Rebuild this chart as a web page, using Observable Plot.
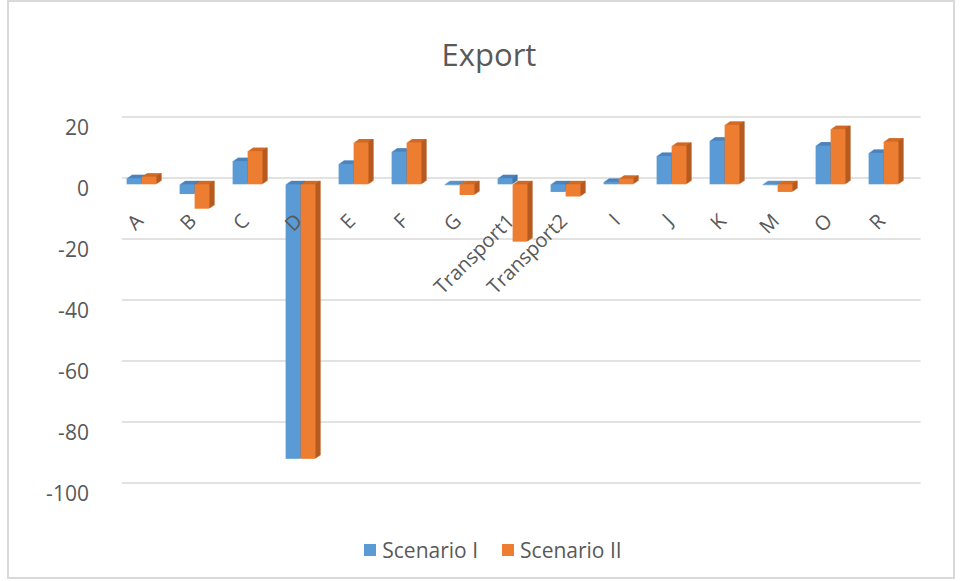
<!DOCTYPE html>
<html><head><meta charset="utf-8">
<script src="https://cdn.jsdelivr.net/npm/d3@7"></script>
<script src="https://cdn.jsdelivr.net/npm/@observablehq/plot@0.6"></script>
<style>
body{margin:0;background:#fff;font-family:"Open Sans",sans-serif;}
#wrap{position:relative;width:961px;height:581px;overflow:hidden;background:#fff}
#frame{position:absolute;left:7px;top:0;width:948px;height:579px;border:2px solid #d9d9d9;box-sizing:border-box}
#title{position:absolute;left:0;width:978px;top:34px;text-align:center;font-size:31px;color:#595959;line-height:40px}
#chart{position:absolute;left:0;top:90px}
#legend{position:absolute;top:533px;left:0;width:1010px;display:flex;justify-content:center}
.lg-swatch{margin-right:24px !important}
.lg-swatch svg{margin-right:6px !important}
</style></head><body>
<div id="wrap"><div id="frame"></div><div id="title">Export</div><div id="chart"></div><div id="legend"></div></div>
<script>
const categories = ["A","B","C","D","E","F","G","Transport1","Transport2","I","J","K","M","O","R"];
const scenario1 = [2, -3.2, 7.6, -90, 6.7, 10.7, -0.3, 2, -2.5, 0.8, 9.3, 14.3, -0.3, 12.7, 10.3];
const scenario2 = [2.5, -8, 10.9, -90, 13.7, 13.7, -3.5, -18.8, -4, 1.8, 12.6, 19.5, -2.5, 18.1, 14];
const seriesNames = ["Scenario I", "Scenario II"];
const seriesColors = ["#5b9bd5", "#ed7d31"];
const topColors = ["#4a84bd", "#d06a25"];
const sideColors = ["#3f6f9b", "#a5531d"];
const yTicks = [20, 0, -20, -40, -60, -80, -100];

const rows1 = categories.map((c, i) => ({cat: c, value: scenario1[i]}));
const rows2 = categories.map((c, i) => ({cat: c, value: scenario2[i]}));

const band = (912 - 113.4) / categories.length;
const bw = 15;
const inL1 = band / 2 - bw, inR1 = band / 2;
const inL2 = band / 2, inR2 = band / 2 - bw;
const depth = 5, slope = -0.7;

function bars3d(rows, k, inL, inR) {
  const marks = [];
  for (let d = depth; d >= 1; d--) {
    marks.push(Plot.barY(rows, {x: "cat", y: "value", fill: topColors[k], insetLeft: inL, insetRight: inR, dx: d, dy: slope * d}));
  }
  for (let d = 1; d <= depth; d++) {
    marks.push(Plot.barY(rows, {x: "cat", y: "value", fill: sideColors[k], insetLeft: inL + bw - 1, insetRight: inR, dx: d, dy: slope * d}));
  }
  marks.push(Plot.barY(rows, {x: "cat", y: "value", fill: seriesColors[k], insetLeft: inL, insetRight: inR}));
  return marks;
}

const chart = Plot.plot({
  width: 961,
  height: 430,
  marginLeft: 113.4,
  marginRight: 49,
  marginTop: 33.3,
  marginBottom: 30.7,
  style: {fontFamily: "Open Sans", fontSize: "21px", color: "#595959", background: "transparent"},
  x: {domain: categories, padding: 0, axis: null},
  y: {domain: [-100, 20], axis: null},
  marks: [
    Plot.ruleY(yTicks, {stroke: "#d9d9d9", strokeWidth: 1.5, dx: 8.5, dy: -6.7}),
    Plot.text(yTicks, {y: d => d, text: d => String(d), frameAnchor: "left", textAnchor: "end", dx: -25, dy: 4, fill: "#595959", fontSize: 21}),
    ...bars3d(rows1, 0, inL1, inR1),
    ...bars3d(rows2, 1, inL2, inR2),
    Plot.text(categories, {x: d => d, y: 0, text: d => d, rotate: -45, textAnchor: "end", lineAnchor: "middle", dx: -2, dy: 33, fill: "#595959", fontSize: 20})
  ]
});
document.getElementById("chart").append(chart);

const legend = Plot.legend({
  color: {domain: seriesNames, range: seriesColors},
  swatchSize: 12,
  className: "lg",
  style: {fontFamily: "Open Sans", fontSize: "21px", color: "#595959"}
});
document.getElementById("legend").append(legend);
</script>
</body></html>
